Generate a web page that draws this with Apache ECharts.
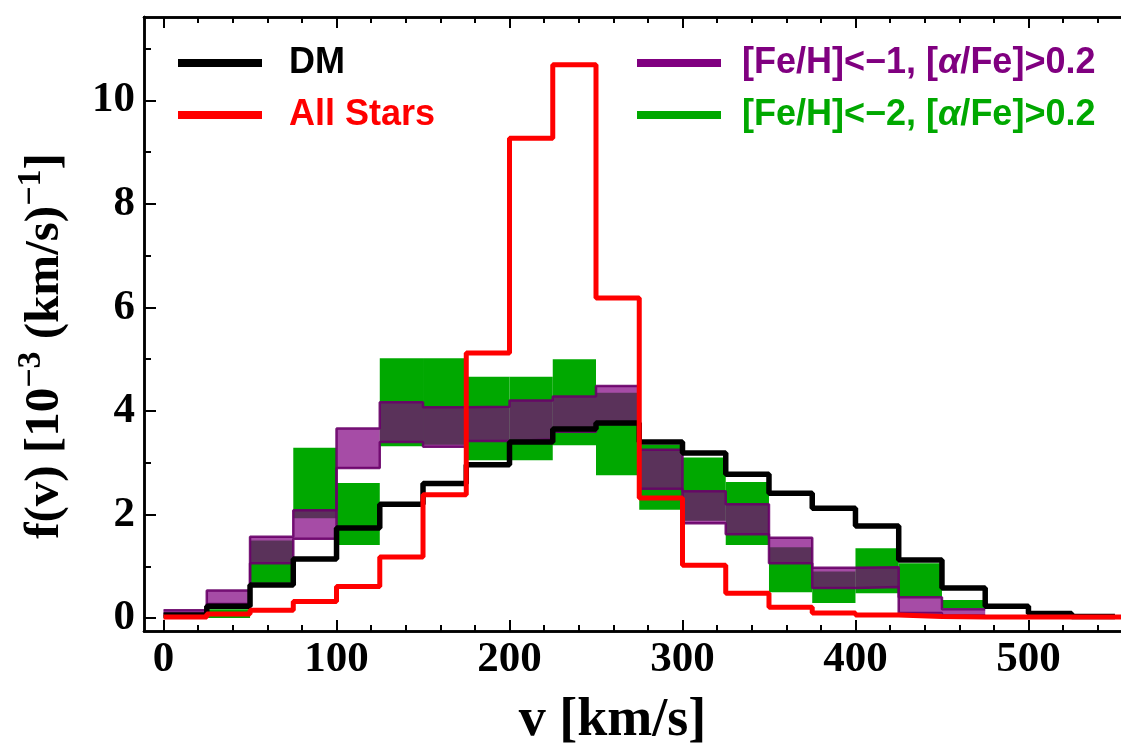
<!DOCTYPE html>
<html>
<head>
<meta charset="utf-8">
<script src="https://cdn.jsdelivr.net/npm/echarts@6/dist/echarts.min.js"></script>
<style>html,body{margin:0;padding:0;background:#fff}#c{width:1121px;height:746px}</style>
</head>
<body>
<div id="c"></div>
<script>
// ---- data ----
const binEdges = [0,25,50,75,100,125,150,175,200,225,250,275,300,325,350,375,400,425,450,475,500,525,550,575];
const dmValues = [0.06,0.23,0.64,1.14,1.74,2.20,2.60,2.96,3.40,3.65,3.77,3.40,3.19,2.78,2.41,2.12,1.78,1.12,0.58,0.23,0.09,0.03];
const allStarsValues = [0.02,0.08,0.15,0.32,0.61,1.18,2.38,5.12,9.27,10.69,6.18,2.32,1.02,0.48,0.21,0.10,0.06,0.03,0.02,0.02,0.02,0.02,0.02];
const feh1Low  = [0.08,0.27,1.06,1.53,2.90,3.40,3.31,3.42,3.45,3.60,3.75,2.50,1.83,1.62,1.06,0.58,0.60,0.10,0.05];
const feh1High = [0.15,0.53,1.57,2.08,3.66,4.17,4.07,4.08,4.20,4.28,4.48,3.25,2.45,2.20,1.55,0.97,0.98,0.40,0.17];
const feh2Low  = [0.00,0.00,0.68,1.93,1.41,3.32,3.35,3.05,3.05,3.34,2.76,2.09,1.88,1.41,0.50,0.29,0.48,0.41,0.19];
const feh2High = [0.06,0.17,1.50,3.29,2.61,5.02,5.02,4.66,4.66,5.00,4.35,3.35,3.10,2.63,1.37,0.90,1.35,1.06,0.35];
const xTickLabels = [0,100,200,300,400,500];
const xMinorTicks = [0,20,40,60,80,100,120,140,160,180,200,220,240,260,280,300,320,340,360,380,400,420,440,460,480,500,520,540];
const yTickLabels = [0,2,4,6,8,10];
const yMinorTicks = [0,1,2,3,4,5,6,7,8,9,10,11];

const nameDM = 'DM', nameAll = 'All Stars';
const nameP = '[Fe/H]<\u22121, [\u03b1/Fe]>0.2';
const nameG = '[Fe/H]<\u22122, [\u03b1/Fe]>0.2';

// ---- helpers building library data ----
function stepData(vals){
  const d = vals.map((v,i)=>[binEdges[i], v]);
  d.push([binEdges[vals.length], vals[vals.length-1]]);
  return d;
}
function bandData(lo, hi){
  return lo.map((l,i)=>[binEdges[i], binEdges[i+1], l, hi[i]]);
}
function bandRender(color){
  return function(params, api){
    const a = api.coord([api.value(0), api.value(3)]);
    const b = api.coord([api.value(1), api.value(2)]);
    return {type:'rect', shape:{x:a[0], y:a[1], width:b[0]-a[0], height:b[1]-a[1]}, style:{fill:color}};
  };
}

const XMIN = -11.3, XMAX = 553.5, YMIN = -0.25, YMAX = 11.61;
const serif = 'Liberation Serif';
const sans = 'Liberation Sans';
const axisColor = '#000';

const chart = echarts.init(document.getElementById('c'), null, {renderer:'canvas'});

function xAx(pos, major, showLabel){
  return {
    type:'value', min:XMIN, max:XMAX, position:pos,
    axisLine:{show:true, onZero:false, lineStyle:{color:axisColor, width:2.5}},
    axisTick:{show:true, inside:true, length: major?11:6, lineStyle:{color:axisColor, width:2}, customValues: major? xTickLabels : xMinorTicks},
    axisLabel:{show:showLabel, customValues:xTickLabels, color:'#000', fontFamily:serif, fontWeight:'bold', fontSize:43, margin:7},
    splitLine:{show:false}
  };
}
function yAx(major, showLabel){
  return {
    type:'value', min:YMIN, max:YMAX, position:'left',
    axisLine:{show:true, onZero:false, lineStyle:{color:axisColor, width:2.5}},
    axisTick:{show:true, inside:true, length: major?12:7, lineStyle:{color:axisColor, width:2}, customValues: major? yTickLabels : yMinorTicks},
    axisLabel:{show:showLabel, customValues:yTickLabels, color:'#000', fontFamily:serif, fontWeight:'bold', fontSize:43, margin:9},
    splitLine:{show:false}
  };
}

const xAxes = [xAx('bottom', true, true), xAx('bottom', false, false), xAx('top', true, false), xAx('top', false, false)];
xAxes[0].name = 'v [km/s]';
xAxes[0].nameLocation = 'middle';
xAxes[0].nameGap = 63;
xAxes[0].nameTextStyle = {color:'#000', fontFamily:serif, fontWeight:'bold', fontSize:54, padding:[0,40,0,0]};

const yAxes = [yAx(true, true), yAx(false, false)];
yAxes[0].name = '{b|f(v) [10}{s|\u22123}{b| (km/s)}{s|\u22121}{b|]}';
yAxes[0].nameLocation = 'middle';
yAxes[0].nameRotate = 90;
yAxes[0].nameGap = 74;
yAxes[0].nameTextStyle = {
  color:'#000',
  padding:[0,44,0,0],
  rich:{
    b:{fontFamily:serif, fontWeight:'bold', fontSize:49, color:'#000', lineHeight:56, verticalAlign:'bottom'},
    s:{fontFamily:serif, fontWeight:'bold', fontSize:34, color:'#000', lineHeight:38, verticalAlign:'top'}
  }
};

function legItem(name, color){
  return {name:name, itemStyle:{color:color, opacity:1}, textStyle:{color:color,
    rich:{i:{fontStyle:'italic', fontFamily:sans, fontWeight:'bold', fontSize:36, color:color}}}};
}
const legendCommon = {
  orient:'vertical', icon:'rect', itemWidth:84, itemHeight:8, itemGap:12, selectedMode:false,
  formatter: n => n.replace('\u03b1', '{i|\u03b1}'),
  textStyle:{fontFamily:sans, fontWeight:'bold', fontSize:36, lineHeight:40}
};

const option = {
  animation:false,
  backgroundColor:'#fff',
  grid:{left:144, top:17, right:0, bottom:115, containLabel:false, outerBoundsMode:'none'},
  legend:[
    Object.assign({}, legendCommon, {left:173, top:38, data:[legItem(nameDM,'#000000'), legItem(nameAll,'#ff0000')],
      textStyle:Object.assign({}, legendCommon.textStyle, {padding:[0,0,0,22]})}),
    Object.assign({}, legendCommon, {left:632, top:38, data:[legItem(nameP,'#800080'), legItem(nameG,'#00a800')],
      textStyle:Object.assign({}, legendCommon.textStyle, {padding:[0,0,0,16]})})
  ],
  xAxis: xAxes,
  yAxis: yAxes,
  series:[
    {name:nameG, type:'custom', renderItem:bandRender('rgb(0,168,0)'), data:bandData(feh2Low, feh2High),
      encode:{x:[0,1], y:[2,3]}, itemStyle:{color:'#00a800'}, z:1, silent:true},
    {name:nameP, type:'custom', renderItem:bandRender('rgba(128,0,128,0.70)'), data:bandData(feh1Low, feh1High),
      encode:{x:[0,1], y:[2,3]}, itemStyle:{color:'#800080'}, z:2, silent:true},
    {name:'pLo', type:'line', step:'end', data:stepData(feh1Low), showSymbol:false, z:3,
      lineStyle:{color:'rgba(105,0,105,0.9)', width:2.5}, silent:true},
    {name:'pHi', type:'line', step:'end', data:stepData(feh1High), showSymbol:false, z:3,
      lineStyle:{color:'rgba(105,0,105,0.9)', width:2.5}, silent:true},
    {name:nameDM, type:'line', step:'end', data:stepData(dmValues), showSymbol:false, z:4,
      itemStyle:{color:'#000'}, lineStyle:{color:'#000', width:5.5}, silent:true},
    {name:nameAll, type:'line', step:'end', data:stepData(allStarsValues), showSymbol:false, z:5,
      itemStyle:{color:'#ff0000'}, lineStyle:{color:'#ff0000', width:5}, silent:true}
  ]
};
chart.setOption(option);
</script>
</body>
</html>
